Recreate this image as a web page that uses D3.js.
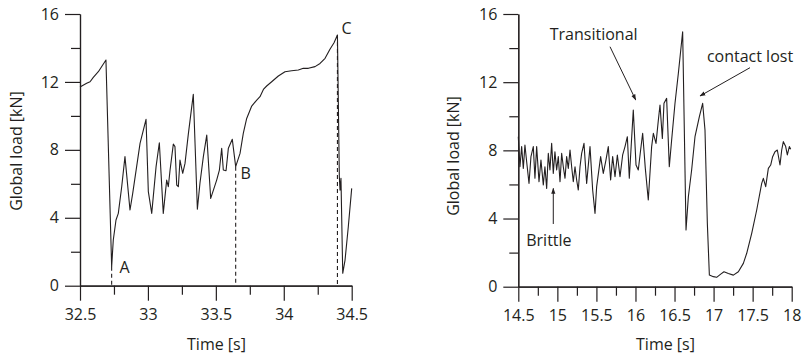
<!DOCTYPE html>
<html><head><meta charset="utf-8">
<script src="https://cdn.jsdelivr.net/npm/d3@7"></script>
<style>
body{margin:0;background:#fff}
text{font-family:"Open Sans",sans-serif;fill:#231f20}
</style>
</head><body><svg id="c" width="803" height="358"></svg>
<script>
// ---------- data ----------
const leftTime = [32.5,32.549,32.574,32.598,32.635,32.691,32.733,32.745,32.765,32.782,32.807,32.831,32.868,32.888,32.942,32.986,33.003,33.028,33.06,33.084,33.113,33.138,33.15,33.163,33.187,33.199,33.212,33.224,33.236,33.256,33.273,33.298,33.334,33.364,33.383,33.408,33.433,33.462,33.482,33.506,33.526,33.543,33.555,33.575,33.592,33.621,33.646,33.678,33.702,33.727,33.764,33.801,33.825,33.85,33.874,33.911,33.96,34.009,34.058,34.107,34.144,34.181,34.23,34.267,34.304,34.34,34.37,34.395,34.409,34.414,34.421,34.434,34.451,34.475,34.5];
const leftLoad = [11.7,11.92,12.01,12.27,12.6,13.29,1.12,2.69,3.87,4.26,5.83,7.6,4.46,5.44,8.38,9.8,5.54,4.26,7.01,8.42,4.26,6.22,5.83,6.81,8.34,8.19,5.93,5.83,7.4,6.62,7.2,8.97,11.27,4.5,6.03,7.6,8.87,5.14,5.63,6.22,6.81,8.09,6.81,6.77,8.09,8.62,7.01,7.79,8.97,9.85,10.58,10.93,11.13,11.56,11.76,12.01,12.35,12.6,12.66,12.7,12.8,12.8,12.9,13.09,13.39,13.92,14.31,14.76,6.42,5.63,6.32,0.73,1.51,3.47,5.73];

const rightTime = [14.5,14.521,14.543,14.564,14.585,14.607,14.637,14.662,14.692,14.713,14.735,14.765,14.79,14.82,14.841,14.863,14.884,14.905,14.927,14.948,14.969,14.991,15.012,15.034,15.055,15.076,15.098,15.119,15.14,15.162,15.183,15.204,15.226,15.247,15.268,15.29,15.311,15.341,15.375,15.418,15.452,15.482,15.503,15.554,15.588,15.622,15.652,15.682,15.708,15.738,15.768,15.802,15.836,15.866,15.896,15.921,15.972,16.007,16.036,16.066,16.092,16.126,16.164,16.207,16.229,16.263,16.293,16.314,16.344,16.365,16.399,16.433,16.463,16.506,16.549,16.604,16.647,16.677,16.719,16.762,16.818,16.86,16.89,16.92,16.946,16.997,17.039,17.091,17.133,17.189,17.253,17.317,17.381,17.424,17.488,17.552,17.616,17.637,17.667,17.701,17.731,17.756,17.786,17.816,17.85,17.872,17.893,17.923,17.944,17.97,17.987];
const rightLoad = [8.8,7.04,8.22,6.94,8.31,7.33,6.06,7.63,8.22,6.36,8.22,6.16,7.43,5.97,7.04,5.77,7.82,6.85,8.41,6.65,7.92,6.85,7.63,6.16,7.82,7.04,6.36,7.63,6.94,8.02,7.04,6.16,7.04,6.26,5.67,7.04,7.82,8.41,6.06,8.22,5.67,4.3,5.87,7.63,6.65,7.43,8.22,6.26,7.63,6.45,7.73,6.45,7.73,8.22,8.8,6.36,10.37,7.14,6.85,8.02,9.0,6.94,5.09,8.22,9.0,8.41,9.78,10.66,8.7,10.76,11.05,7.04,8.61,10.76,12.52,14.96,3.33,5.28,6.85,8.8,9.98,10.76,9.19,3.72,0.68,0.59,0.55,0.74,0.88,0.78,0.68,0.88,1.37,1.96,3.13,4.5,6.06,6.36,5.87,6.94,7.14,7.63,7.92,8.02,7.14,8.02,8.51,8.22,7.73,8.22,8.06];

const yMajorTicks = [0,4,8,12,16];
const yMinorTicks = [2,6,10,14];
const leftXMajorTicks = [32.5,33,33.5,34,34.5];
const leftXMinorTicks = [32.75,33.25,33.75,34.25];
const rightXMajorTicks = [14.5,15,15.5,16,16.5,17,17.5,18];
const rightXMinorTicks = [14.75,15.25,15.75,16.25,16.75,17.25,17.75];

const eventNames = ["A","B","C"];
const eventTime = [32.733,33.646,34.395];
const eventLoad = [1.12,7.01,14.76];

const noteLabels = ["Transitional","Brittle","contact lost"];

const xTitle = "Time [s]";
const yTitle = "Global load [kN]";

// ---------- drawing ----------
const svg = d3.select("#c");
const ink = "#231f20";

function panel(cfg){
  const g = svg.append("g");
  const x = d3.scaleLinear().domain(cfg.xDomain).range([cfg.x0, cfg.x1]);
  const y = d3.scaleLinear().domain([0,16]).range([cfg.yBot, cfg.yTop]);

  // minor axes
  g.append("g").attr("transform",`translate(0,${cfg.yBot})`)
    .call(d3.axisBottom(x).tickValues(cfg.xMinor).tickSize(9).tickSizeOuter(0).tickFormat(""));
  g.append("g").attr("transform",`translate(${cfg.x0},0)`)
    .call(d3.axisLeft(y).tickValues(yMinorTicks).tickSize(9).tickSizeOuter(0).tickFormat(""));
  // major axes
  const xa = g.append("g").attr("transform",`translate(0,${cfg.yBot})`)
    .call(d3.axisBottom(x).tickValues(cfg.xMajor).tickSize(15).tickSizeOuter(0).tickPadding(8).tickFormat(d=>String(d)));
  const ya = g.append("g").attr("transform",`translate(${cfg.x0},0)`)
    .call(d3.axisLeft(y).tickValues(yMajorTicks).tickSize(15).tickSizeOuter(0).tickPadding(6).tickFormat(d=>String(d)));
  g.selectAll(".domain, .tick line").attr("stroke", ink).attr("stroke-width",1.2);
  g.selectAll(".tick text").attr("font-family","'Open Sans',sans-serif").attr("font-size",16).attr("fill",ink);

  // titles
  g.append("text").attr("x",cfg.xTitleX).attr("y",350).attr("text-anchor","middle")
    .attr("font-size",16).text(xTitle);
  g.append("text").attr("transform",`translate(${cfg.yTitleX},${cfg.yTitleY}) rotate(-90)`)
    .attr("text-anchor","middle").attr("font-size",16).text(yTitle);

  // series
  const line = d3.line().x(d=>x(d[0])).y(d=>y(d[1]));
  g.append("path").datum(cfg.t.map((t,i)=>[t,cfg.v[i]]))
    .attr("d",line).attr("fill","none").attr("stroke",ink).attr("stroke-width",1.1)
    .attr("stroke-linejoin","round");
  return {g,x,y};
}

const L = panel({xDomain:[32.5,34.5], x0:80, x1:351.7, yTop:14, yBot:285.7,
  xMajor:leftXMajorTicks, xMinor:leftXMinorTicks, t:leftTime, v:leftLoad,
  xTitleX:216.5, yTitleX:22, yTitleY:151});
const R = panel({xDomain:[14.5,18], x0:518.3, x1:791.7, yTop:14, yBot:286.7,
  xMajor:rightXMajorTicks, xMinor:rightXMinorTicks, t:rightTime, v:rightLoad,
  xTitleX:665.5, yTitleX:459, yTitleY:156});

// event markers A B C
const evOff = [[13,6],[10,12],[9,-1]];
eventNames.forEach((n,i)=>{
  L.g.append("line").attr("x1",L.x(eventTime[i])).attr("x2",L.x(eventTime[i]))
    .attr("y1",L.y(eventLoad[i])).attr("y2",L.y(0))
    .attr("stroke",ink).attr("stroke-width",1.1).attr("stroke-dasharray","4,3");
  L.g.append("text").attr("x",L.x(eventTime[i])+evOff[i][0]).attr("y",L.y(eventLoad[i])+evOff[i][1])
    .attr("text-anchor","middle").attr("font-size",16).text(n);
});

// annotations (right panel), positions in data units
svg.append("defs").append("marker").attr("id","ah").attr("viewBox","0 0 10 10")
  .attr("refX",9).attr("refY",5).attr("markerWidth",6).attr("markerHeight",6)
  .attr("orient","auto").append("path").attr("d","M0,1.5L10,5L0,8.5Z").attr("fill",ink);
const notePos = [
  {tx:15.465, ty:14.45, x1:15.674, y1:14.08, x2:16.003, y2:10.96},
  {tx:14.892, ty:2.39, x1:14.948, y1:3.68, x2:14.948, y2:5.77},
  {tx:17.466, ty:13.16, x1:17.466, y1:12.85, x2:16.826, y2:11.19}
];
noteLabels.forEach((n,i)=>{
  const p = notePos[i];
  R.g.append("text").attr("x",R.x(p.tx)).attr("y",R.y(p.ty)).attr("text-anchor","middle")
    .attr("font-size",16).text(n);
  R.g.append("line").attr("x1",R.x(p.x1)).attr("y1",R.y(p.y1)).attr("x2",R.x(p.x2)).attr("y2",R.y(p.y2))
    .attr("stroke",ink).attr("stroke-width",1).attr("marker-end","url(#ah)");
});
</script>
</body></html>
